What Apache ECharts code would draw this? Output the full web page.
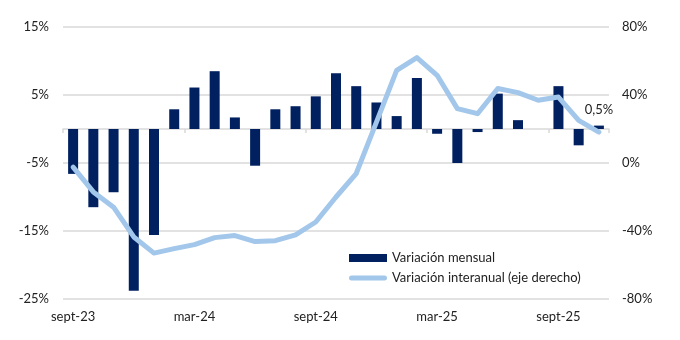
<!DOCTYPE html>
<html>
<head>
<meta charset="utf-8">
<script src="https://cdn.jsdelivr.net/npm/echarts@6/dist/echarts.min.js"></script>
<style>
html,body{margin:0;padding:0;background:#fff;}
#c{width:680px;height:340px;}
</style>
</head>
<body>
<div id="c"></div>
<script>
var months = ['sept-23','oct-23','nov-23','dic-23','ene-24','feb-24','mar-24','abr-24','may-24','jun-24','jul-24','ago-24','sept-24','oct-24','nov-24','dic-24','ene-25','feb-25','mar-25','abr-25','may-25','jun-25','jul-25','ago-25','sept-25','oct-25','nov-25'];
var xLabels = ['sept-23','mar-24','sept-24','mar-25','sept-25'];
var mensual = [-6.6,-11.5,-9.3,-23.8,-15.6,2.9,6.1,8.5,1.7,-5.4,2.9,3.35,4.8,8.2,6.3,3.9,1.9,7.5,-0.7,-5.0,-0.45,5.2,1.3,0,6.3,-2.4,0.5];
var interanual = [-2.4,-17,-26,-43.5,-53,-50.4,-48,-43.9,-42.7,-46.2,-45.7,-42.3,-34.7,-20,-6.2,24,54.5,62,51.6,32,29,43.8,41.4,36.9,38.8,25.1,18.2];
var leftTicks = [-25,-15,-5,5,15];
var rightTicks = [-80,-40,0,40,80];
var lastLabel = '0,5%';

var font = 'Lato, "Open Sans", sans-serif';
var txt = '#222';
var grey = '#d9d9d9';
var lineColor = '#a2c7ea';

var barData = mensual.map(function(v,i){
  if (i === mensual.length-1) {
    return {value:v, label:{show:true, position:'top', distance:9, formatter:lastLabel, color:txt, fontSize:13, fontFamily:font}};
  }
  return v;
});

var lineIcon = 'path://M0,0L0.01,0Z M0,8L0.01,8Z M2.5,1.5L35.5,1.5A2.5,2.5 0 0 1 35.5,6.5L2.5,6.5A2.5,2.5 0 0 1 2.5,1.5Z';

var chart = echarts.init(document.getElementById('c'), null, {renderer:'canvas'});
chart.setOption({
  animation:false,
  backgroundColor:'#fff',
  grid:{left:63, right:71, top:27, bottom:41},
  legend:{
    orient:'vertical', left:349, top:251, padding:0, itemWidth:38, itemHeight:8, itemGap:6,
    textStyle:{color:txt, fontSize:13, fontFamily:font, lineHeight:14},
    data:[
      {name:'Variación mensual', icon:'rect'},
      {name:'Variación interanual (eje derecho)', icon:lineIcon, itemStyle:{color:lineColor, borderWidth:0}}
    ]
  },
  xAxis:[
    {type:'category', data:months, boundaryGap:true,
     axisLine:{show:true, onZero:true, lineStyle:{color:grey, width:1.5}},
     axisTick:{show:true, interval:5, length:4, lineStyle:{color:grey, width:1.5}},
     axisLabel:{show:false}},
    {type:'category', data:months, boundaryGap:true, position:'bottom',
     axisLine:{show:false}, axisTick:{show:false},
     axisLabel:{show:true, interval:function(i,v){return xLabels.indexOf(v)>=0;}, margin:11, color:txt, fontSize:13, fontFamily:font}}
  ],
  yAxis:[
    {type:'value', min:-25, max:15, interval:5, position:'left',
     splitLine:{show:false}, axisLine:{show:false}, axisTick:{show:false},
     axisLabel:{margin:14, color:txt, fontSize:13, fontFamily:font,
       formatter:function(v){return leftTicks.indexOf(v)>=0 ? v+'%' : '';}}},
    {type:'value', min:-80, max:80, interval:40, position:'right',
     splitLine:{show:true, lineStyle:{color:grey, width:1.5}}, axisLine:{show:false}, axisTick:{show:false},
     axisLabel:{margin:13, color:txt, fontSize:13, fontFamily:font,
       formatter:function(v){return rightTicks.indexOf(v)>=0 ? v+'%' : '';}}}
  ],
  series:[
    {name:'Variación mensual', type:'bar', xAxisIndex:0, yAxisIndex:0, data:barData, barWidth:10,
     itemStyle:{color:'#002060'}},
    {name:'Variación interanual (eje derecho)', type:'line', xAxisIndex:0, yAxisIndex:1, data:interanual,
     symbol:'none', lineStyle:{color:lineColor, width:5, cap:'round', join:'round'}, itemStyle:{color:lineColor}, z:3}
  ]
});
</script>
</body>
</html>
